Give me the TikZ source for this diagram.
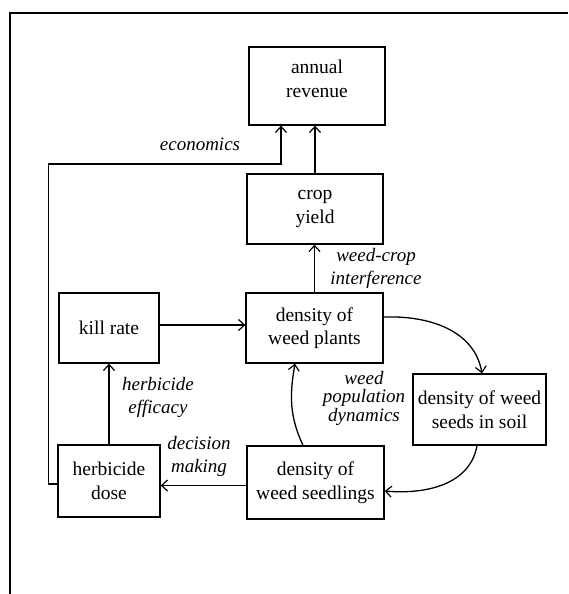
\documentclass[tikz,border=0pt]{standalone}
\usepackage{fontspec}
\setmainfont{Liberation Serif}
\usetikzlibrary{arrows.meta}
\begin{document}
\begin{tikzpicture}[x=1pt,y=-1pt,
  box/.style={draw,line width=1.3pt,align=center,inner sep=0pt,
    font=\fontsize{19.5}{23.5}\selectfont},
  lab/.style={align=center,inner sep=0pt,font=\fontsize{19}{23}\selectfont\itshape},
  arr/.style={line width=1.3pt,-{Straight Barb[length=6pt,width=11pt,line width=1.2pt]}},
  frame/.style={line width=1.6pt}]
\useasboundingbox (0,0) rectangle (568,594);
\draw[frame] (10,594) -- (10,13) -- (568,13);
% boxes
\node[box,minimum width=136pt,minimum height=78pt] (rev) at (317,86) {};
\node[box,draw=none] (revtext) at (317,79) {annual\\revenue};
\node[box,minimum width=136pt,minimum height=70pt] (crop) at (315,209) {crop\\yield};
\node[box,minimum width=137pt,minimum height=70pt] (plants) at (314.5,328) {density of\\weed plants};
\node[box,minimum width=100pt,minimum height=70pt] (kill) at (109,328) {kill rate};
\node[box,minimum width=102pt,minimum height=72pt] (dose) at (109,481) {herbicide\\dose};
\node[box,minimum width=137pt,minimum height=73pt] (seedl) at (315.5,482.5) {density of\\weed seedlings};
\node[box,minimum width=133pt,minimum height=71pt] (seeds) at (479.5,409.5) {density of weed\\seeds in soil};
% connectors
\coordinate (econ) at (281,164);
\draw[arr] (crop.north) -- (crop.north |- rev.south);
\draw[arr] ([yshift=-3pt]dose.west) -- ++(-9,0) |- (econ) -- (econ |- rev.south);
\draw[arr] (plants.north) -- (plants.north |- crop.south);
\draw[arr] ([yshift=3pt]kill.east) -- ([yshift=3pt]kill.east -| plants.west);
\draw[arr] (dose.north) -- (dose.north |- kill.south);
\draw[arr] ([yshift=-3pt]seedl.west) -- ([yshift=-3pt]seedl.west -| dose.east);
\draw[arr] ([yshift=11pt]plants.east) to[out=2,in=100] ([xshift=2.5pt]seeds.north);
\draw[arr] ([xshift=-2.5pt]seeds.south) to[out=-100,in=-5] ([yshift=-8.5pt]seedl.east);
\draw[arr] ([xshift=-12.5pt]seedl.north) to[out=115,in=-100] ([xshift=-19.5pt]plants.south);
% labels
\node[lab] (econlab) at (200,144) {economics};
\node[lab] (wclab) at (376,268) {weed-crop\\interference};
\node[lab] (efflab) at (158,397) {herbicide\\efficacy};
\node[lab] (declab) at (199,456) {decision\\making};
\node[lab,font=\fontsize{19}{18.5}\selectfont\itshape] (poplab) at (364,398) {weed\\population\\dynamics};
\end{tikzpicture}
\end{document}
